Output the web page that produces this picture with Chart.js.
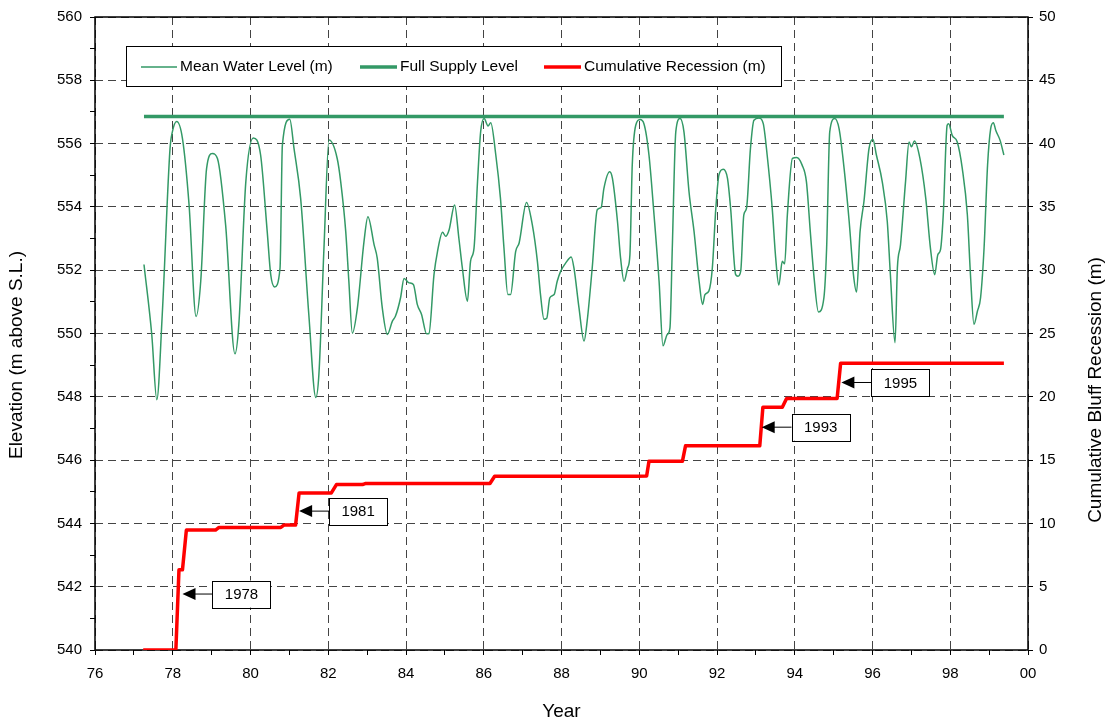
<!DOCTYPE html>
<html>
<head>
<meta charset="utf-8">
<title>Mean Water Level and Cumulative Bluff Recession</title>
<script src="https://cdn.jsdelivr.net/npm/chart.js@4.4.0/dist/chart.umd.min.js"></script>
<style>
  html, body { margin: 0; padding: 0; background: #fff; }
  #wrap { width: 1107px; height: 726px; }
</style>
</head>
<body>
<div id="wrap"><canvas id="chart" width="1107" height="726"></canvas></div>
<script>
"use strict";

// Mean water level (m above S.L.)
const levelYears = [
  77.26, 77.46, 77.59, 77.73, 77.93, 77.99, 78.10, 78.25, 78.42, 78.60, 78.72, 78.87,
  79.02, 79.15, 79.36, 79.60, 79.70, 79.88, 80.07, 80.26, 80.43, 80.52, 80.62, 80.76,
  80.82, 81.01, 81.12, 81.29, 81.50, 81.68, 81.76, 81.89, 82.02, 82.23, 82.32, 82.45,
  82.53, 82.62, 82.75, 82.92, 83.02, 83.18, 83.26, 83.39, 83.52, 83.65, 83.73, 83.86,
  83.95, 84.08, 84.19, 84.29, 84.40, 84.53, 84.59, 84.72, 84.81, 84.94, 85.02, 85.11,
  85.25, 85.36, 85.45, 85.58, 85.66, 85.75, 85.84, 85.92, 86.01, 86.11, 86.18, 86.31,
  86.43, 86.52, 86.62, 86.69, 86.82, 86.91, 87.10, 87.25, 87.38, 87.46, 87.55, 87.62,
  87.70, 87.81, 87.89, 87.98, 88.11, 88.25, 88.32, 88.45, 88.58, 88.66, 88.79, 88.92,
  89.02, 89.09, 89.24, 89.31, 89.44, 89.52, 89.61, 89.70, 89.76, 89.82, 89.91, 90.02,
  90.12, 90.25, 90.38, 90.51, 90.61, 90.72, 90.79, 90.85, 90.94, 91.05, 91.15, 91.28,
  91.41, 91.54, 91.63, 91.69, 91.79, 91.88, 91.97, 92.05, 92.16, 92.27, 92.35, 92.48,
  92.54, 92.61, 92.69, 92.76, 92.86, 92.95, 93.08, 93.19, 93.29, 93.42, 93.51, 93.59,
  93.68, 93.74, 93.81, 93.94, 94.05, 94.19, 94.30, 94.40, 94.49, 94.61, 94.75, 94.82,
  94.90, 95.03, 95.14, 95.27, 95.40, 95.51, 95.59, 95.68, 95.78, 95.91, 96.01, 96.10,
  96.25, 96.38, 96.46, 96.58, 96.64, 96.72, 96.85, 96.94, 97.00, 97.08, 97.22, 97.37,
  97.49, 97.60, 97.68, 97.75, 97.82, 97.92, 97.96, 98.05, 98.18, 98.31, 98.44, 98.52,
  98.61, 98.70, 98.78, 98.87, 98.96, 99.04, 99.11, 99.17, 99.28, 99.38
];
const levelValues = [
  552.18, 549.97, 547.91, 550.60, 555.84, 556.37, 556.70, 556.16, 554.06, 550.54, 551.65, 555.21,
  555.69, 555.53, 553.43, 549.36, 550.29, 554.80, 556.18, 555.64, 553.22, 551.86, 551.47, 552.07,
  555.95, 556.77, 555.84, 554.27, 550.60, 547.98, 548.72, 552.70, 556.11, 555.53, 554.80, 553.22,
  551.65, 550.01, 550.81, 552.91, 553.69, 552.80, 552.38, 550.81, 549.97, 550.39, 550.55, 551.13,
  551.74, 551.60, 551.55, 550.92, 550.60, 549.99, 550.00, 551.86, 552.59, 553.20, 553.07, 553.28,
  554.06, 553.01, 552.07, 551.02, 552.28, 552.70, 554.80, 556.37, 556.79, 556.56, 556.66, 555.64,
  554.27, 552.70, 551.23, 551.23, 552.59, 552.86, 554.14, 553.43, 552.28, 551.23, 550.45, 550.48,
  551.13, 551.23, 551.65, 551.97, 552.23, 552.42, 552.07, 550.81, 549.76, 550.39, 552.07, 553.91,
  553.98, 554.58, 555.11, 554.90, 553.54, 552.38, 551.65, 552.07, 552.49, 555.32, 556.58, 556.76,
  556.63, 555.64, 553.75, 551.65, 549.61, 549.97, 550.18, 552.70, 556.37, 556.79, 556.37, 554.48,
  553.22, 551.65, 550.92, 551.23, 551.34, 552.07, 553.96, 555.01, 555.19, 554.90, 553.96, 551.86,
  551.81, 551.97, 553.75, 553.96, 555.84, 556.74, 556.81, 556.63, 555.64, 553.96, 552.38, 551.53,
  552.28, 552.20, 553.75, 555.53, 555.56, 555.32, 554.80, 553.22, 551.86, 550.68, 551.13, 552.70,
  556.37, 556.79, 556.47, 555.21, 553.54, 551.86, 551.31, 553.22, 554.17, 555.84, 556.14, 555.64,
  554.80, 553.54, 551.86, 549.71, 552.07, 552.80, 554.80, 556.05, 555.90, 556.08, 555.53, 554.27,
  552.70, 551.86, 552.49, 552.65, 553.75, 556.58, 556.63, 556.26, 556.05, 555.21, 553.75, 551.86,
  550.29, 550.71, 551.13, 552.70, 555.32, 556.47, 556.66, 556.42, 556.11, 555.64
];

// Full supply level
const fslYears = [77.26, 99.38];
const fslValues = [556.86, 556.86];

// Cumulative bluff recession (m), right axis
const recessionYears = [
  77.24, 78.08, 78.16, 78.25, 78.35, 79.10, 79.19, 80.78, 80.86, 81.16, 81.25, 82.08,
  82.21, 82.88, 82.95, 86.16, 86.28, 89.91, 90.19, 90.25, 91.11, 91.19, 93.10, 93.18,
  93.68, 93.79, 95.09, 95.18, 99.38
];
const recessionValues = [
  0, 0, 6.33, 6.33, 9.47, 9.47, 9.68, 9.68, 9.87, 9.87, 12.41, 12.41,
  13.07, 13.07, 13.15, 13.15, 13.72, 13.72, 13.75, 14.90, 14.90, 16.13, 16.13, 19.17,
  19.17, 19.87, 19.87, 22.65, 22.65
];

// Callouts on the recession line
const noteLabels = ['1978', '1981', '1993', '1995'];
const noteYears = [78.25, 81.25, 93.15, 95.2];
const noteValues = [4.42, 10.97, 17.6, 21.13];

const legendLabels = ['Mean Water Level (m)', 'Full Supply Level', 'Cumulative Recession (m)'];

const FONT = "'Liberation Sans', Arial, sans-serif";
const GREEN = '#339966';
const RED = '#ff0000';
const GRID = '#444444';

const toPoints = (xs, ys) => xs.map((x, i) => ({ x: x, y: ys[i] }));
const evenOnly = (color) => (ctx) => (ctx.tick && Math.round(ctx.tick.value) % 2 === 0) ? color : 'rgba(0,0,0,0)';

// Plot frame, drawn above the grid but under the lines
const framePlugin = {
  id: 'frame',
  beforeDatasetsDraw(chart) {
    const { ctx, chartArea: a } = chart;
    ctx.save();
    ctx.strokeStyle = '#000';
    ctx.lineWidth = 1.5;
    ctx.strokeRect(a.left, a.top, a.right - a.left, a.bottom - a.top);
    ctx.restore();
  }
};

function drawVerticalTitle(ctx, text, x, y) {
  ctx.save();
  ctx.translate(x, y);
  ctx.rotate(-Math.PI / 2);
  ctx.font = '19px ' + FONT;
  ctx.fillStyle = '#000';
  ctx.textAlign = 'center';
  ctx.textBaseline = 'middle';
  ctx.fillText(text, 0, 0);
  ctx.restore();
}

// Legend box, year callouts and the axis titles at the sides
const overlayPlugin = {
  id: 'overlay',
  afterDraw(chart) {
    const { ctx } = chart;
    const xs = chart.scales.x, ys = chart.scales.y1;
    ctx.save();

    // legend
    ctx.fillStyle = '#fff';
    ctx.fillRect(126, 46, 655, 40);
    ctx.strokeStyle = '#000';
    ctx.lineWidth = 1;
    ctx.strokeRect(126.5, 46.5, 655, 40);
    const items = [
      { x: 141, w: 36, color: GREEN, lw: 1.5 },
      { x: 360, w: 37, color: GREEN, lw: 3.5 },
      { x: 544, w: 37, color: RED, lw: 3.5 }
    ];
    ctx.font = '15.5px ' + FONT;
    ctx.textBaseline = 'middle';
    ctx.textAlign = 'left';
    items.forEach((it, i) => {
      ctx.strokeStyle = it.color;
      ctx.lineWidth = it.lw;
      ctx.beginPath();
      ctx.moveTo(it.x, 67);
      ctx.lineTo(it.x + it.w, 67);
      ctx.stroke();
      ctx.fillStyle = '#000';
      ctx.fillText(legendLabels[i], it.x + it.w + 3, 67);
    });

    // callouts
    ctx.font = '15px ' + FONT;
    ctx.textAlign = 'center';
    noteLabels.forEach((label, i) => {
      const tx = xs.getPixelForValue(noteYears[i]);
      const ty = ys.getPixelForValue(noteValues[i]);
      const bx = tx + 30, bw = 58, bh = 27;
      ctx.strokeStyle = '#000';
      ctx.lineWidth = 1;
      ctx.beginPath();
      ctx.moveTo(bx, ty);
      ctx.lineTo(tx + 10, ty);
      ctx.stroke();
      ctx.fillStyle = '#000';
      ctx.beginPath();
      ctx.moveTo(tx, ty);
      ctx.lineTo(tx + 13, ty - 6);
      ctx.lineTo(tx + 13, ty + 6);
      ctx.closePath();
      ctx.fill();
      ctx.fillStyle = '#fff';
      ctx.fillRect(bx, ty - bh / 2, bw, bh);
      ctx.strokeRect(Math.round(bx) + 0.5, Math.round(ty - bh / 2) + 0.5, bw, bh);
      ctx.fillStyle = '#000';
      ctx.fillText(label, bx + bw / 2, ty + 1);
    });
    ctx.restore();

    // side titles, both reading bottom to top
    drawVerticalTitle(ctx, 'Elevation (m above S.L.)', 17, 355);
    drawVerticalTitle(ctx, 'Cumulative Bluff Recession (m)', 1096, 390);
  }
};

const chart = new Chart(document.getElementById('chart').getContext('2d'), {
  type: 'line',
  data: {
    datasets: [
      {
        label: legendLabels[0],
        data: toPoints(levelYears, levelValues),
        borderColor: GREEN,
        borderWidth: 1.5,
        pointRadius: 0,
        cubicInterpolationMode: 'monotone',
        yAxisID: 'y',
        order: 2
      },
      {
        label: legendLabels[1],
        data: toPoints(fslYears, fslValues),
        borderColor: GREEN,
        borderWidth: 3.5,
        pointRadius: 0,
        yAxisID: 'y',
        order: 3
      },
      {
        label: legendLabels[2],
        data: toPoints(recessionYears, recessionValues),
        borderColor: RED,
        borderWidth: 3.5,
        pointRadius: 0,
        borderJoinStyle: 'round',
        yAxisID: 'y1',
        order: 1
      }
    ]
  },
  options: {
    responsive: false,
    animation: false,
    layout: { padding: { top: 15, left: 0, right: 0, bottom: 0 } },
    plugins: { legend: { display: false }, tooltip: { enabled: false } },
    scales: {
      x: {
        type: 'linear',
        min: 76,
        max: 100,
        afterFit: (s) => { s.height = 76; },
        ticks: {
          stepSize: 1,
          autoSkip: false,
          maxRotation: 0,
          padding: 10,
          color: '#000',
          font: { family: FONT, size: 15 },
          callback: (v) => v % 2 === 0 ? String(v % 100).padStart(2, '0') : ''
        },
        grid: { color: evenOnly(GRID), lineWidth: 1, tickColor: '#000', tickLength: 5, tickWidth: 1 },
        border: { display: false, dash: [8, 5] },
        title: {
          display: true,
          text: 'Year',
          color: '#000',
          font: { family: FONT, size: 19 },
          padding: { top: 0, bottom: 3 }
        }
      },
      y: {
        position: 'left',
        min: 540,
        max: 560,
        afterFit: (s) => { s.width = 95; },
        ticks: {
          stepSize: 1,
          autoSkip: false,
          padding: 8,
          color: '#000',
          font: { family: FONT, size: 15 },
          callback: (v) => v % 2 === 0 ? String(v) : ''
        },
        grid: { color: evenOnly(GRID), lineWidth: 1, tickColor: '#000', tickLength: 5, tickWidth: 1 },
        border: { display: false, dash: [8, 5] }
      },
      y1: {
        position: 'right',
        min: 0,
        max: 50,
        afterFit: (s) => { s.width = 79; },
        ticks: {
          stepSize: 5,
          padding: 6,
          color: '#000',
          font: { family: FONT, size: 15 }
        },
        grid: { drawOnChartArea: false, tickColor: '#000', tickLength: 5, tickWidth: 1 },
        border: { display: false }
      }
    }
  },
  plugins: [framePlugin, overlayPlugin]
});
</script>
</body>
</html>
